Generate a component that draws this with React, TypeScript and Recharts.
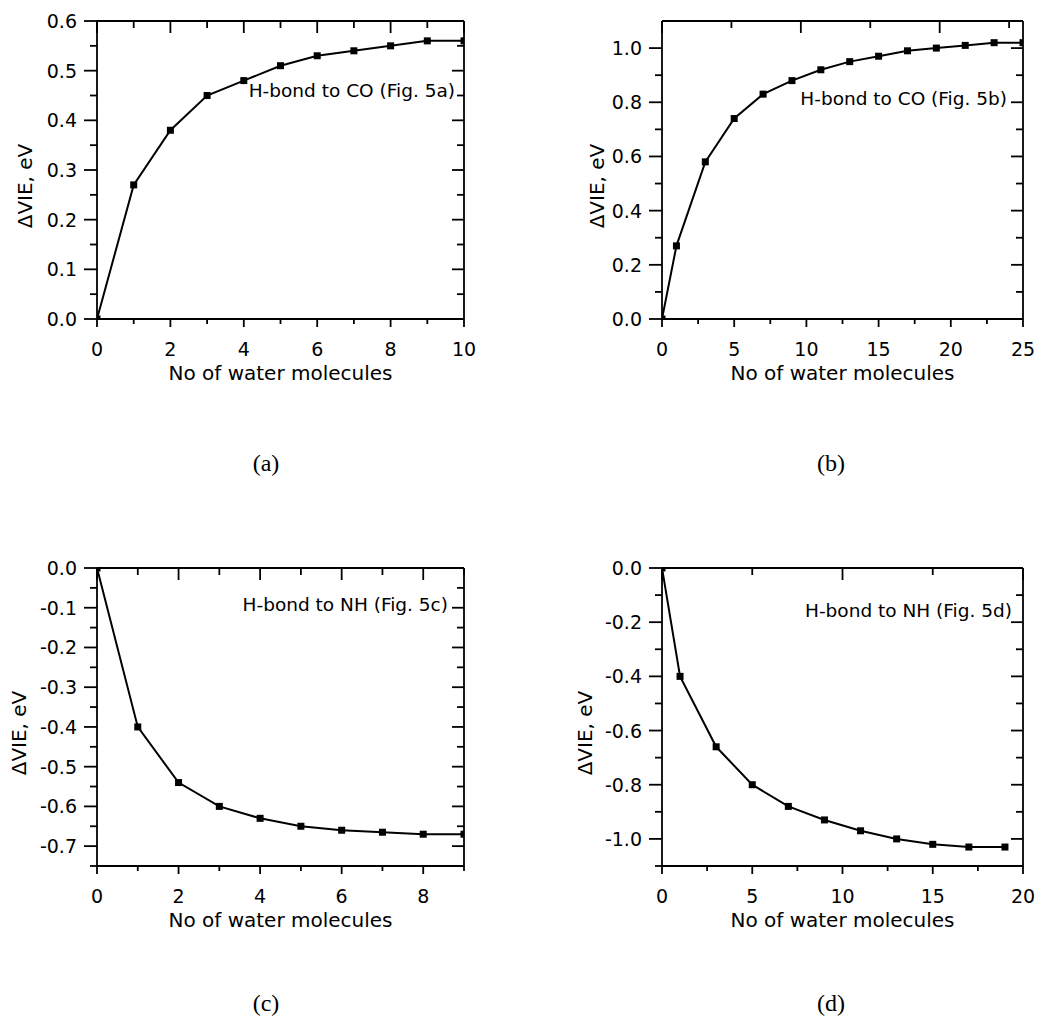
import { LineChart, Line, XAxis, YAxis } from "recharts";

// ---- data ----
const waterA = [0, 1, 2, 3, 4, 5, 6, 7, 8, 9, 10];
const vieA = [0, 0.27, 0.38, 0.45, 0.48, 0.51, 0.53, 0.54, 0.55, 0.56, 0.56];

const waterB = [0, 1, 3, 5, 7, 9, 11, 13, 15, 17, 19, 21, 23, 25];
const vieB = [0, 0.27, 0.58, 0.74, 0.83, 0.88, 0.92, 0.95, 0.97, 0.99, 1.0, 1.01, 1.02, 1.02];

const waterC = [0, 1, 2, 3, 4, 5, 6, 7, 8, 9];
const vieC = [0, -0.4, -0.54, -0.6, -0.63, -0.65, -0.66, -0.665, -0.67, -0.67];

const waterD = [0, 1, 3, 5, 7, 9, 11, 13, 15, 17, 19];
const vieD = [0, -0.4, -0.66, -0.8, -0.88, -0.93, -0.97, -1.0, -1.02, -1.03, -1.03];

// ---- ticks ----
const xMajorA = [0, 2, 4, 6, 8, 10];
const xMinorA = [1, 3, 5, 7, 9];
const yMajorA = [0, 0.1, 0.2, 0.3, 0.4, 0.5, 0.6];
const yMinorA = [0.05, 0.15, 0.25, 0.35, 0.45, 0.55];

const xMajorB = [0, 5, 10, 15, 20, 25];
const xMinorB = [2.5, 7.5, 12.5, 17.5, 22.5];
const yMajorB = [0, 0.2, 0.4, 0.6, 0.8, 1.0];
const yMinorB = [0.1, 0.3, 0.5, 0.7, 0.9];

const xMajorC = [0, 2, 4, 6, 8];
const xMinorC = [1, 3, 5, 7, 9];
const yMajorC = [0, -0.1, -0.2, -0.3, -0.4, -0.5, -0.6, -0.7];
const yMinorC = [-0.05, -0.15, -0.25, -0.35, -0.45, -0.55, -0.65, -0.75];

const xMajorD = [0, 5, 10, 15, 20];
const xMinorD = [2.5, 7.5, 12.5, 17.5];
const yMajorD = [0, -0.2, -0.4, -0.6, -0.8, -1.0];
const yMinorD = [-0.1, -0.3, -0.5, -0.7, -0.9, -1.1];

const FONT = "'DejaVu Sans', sans-serif";
const AXIS_W = 1.8;

const isMajor = (v: number, majors: number[]) => majors.some((m) => Math.abs(m - v) < 1e-9);

type Side = "bottom" | "top" | "left" | "right";

// custom tick: draws the tick mark (major/minor) and, for labelled sides, the number
const makeTick = (side: Side, majors: number[], fmt?: (v: number) => string) => (props: any) => {
  const { x, y, payload } = props;
  const major = isMajor(payload.value, majors);
  let line;
  if (side === "bottom") {
    const len = major ? 8 : 5;
    line = <line x1={x} y1={y} x2={x} y2={y + len} stroke="#000" strokeWidth={AXIS_W} />;
  } else if (side === "top") {
    const len = major ? 12 : 7;
    line = <line x1={x} y1={y} x2={x} y2={y + len} stroke="#000" strokeWidth={AXIS_W} />;
  } else if (side === "left") {
    const len = major ? 13 : 7;
    line = <line x1={x} y1={y} x2={x - len} y2={y} stroke="#000" strokeWidth={AXIS_W} />;
  } else {
    const len = major ? 12 : 7;
    line = <line x1={x} y1={y} x2={x - len} y2={y} stroke="#000" strokeWidth={AXIS_W} />;
  }
  let label = null;
  if (fmt && major) {
    if (side === "bottom") {
      label = (
        <text x={x} y={y + 37} textAnchor="middle" fontFamily={FONT} fontSize={19} fill="#000">
          {fmt(payload.value)}
        </text>
      );
    } else if (side === "left") {
      label = (
        <text x={x - 20} y={y + 7} textAnchor="end" fontFamily={FONT} fontSize={19} fill="#000">
          {fmt(payload.value)}
        </text>
      );
    }
  }
  return (
    <g>
      {line}
      {label}
    </g>
  );
};

const Square = (props: any) => {
  const { cx, cy, index } = props;
  if (cx == null || cy == null) return <g key={index} />;
  return <rect key={index} x={cx - 3.5} y={cy - 3.5} width={7} height={7} fill="#000" />;
};

interface PanelProps {
  left: number;
  top: number;
  width: number;
  height: number;
  plot: { top: number; right: number; bottom: number; left: number };
  water: number[];
  vie: number[];
  xDomain: [number, number];
  yDomain: [number, number];
  xMajor: number[];
  xMinor: number[];
  yMajor: number[];
  yMinor: number[];
  note: string;
  noteX: number;
  noteY: number;
  yTitleX: number;
  caption: string;
  captionX: number;
  captionY: number;
}

const Panel = (p: PanelProps) => {
  const data = p.water.map((n, i) => ({ n, vie: p.vie[i] }));
  const xTicks = [...p.xMajor, ...p.xMinor].sort((a, b) => a - b);
  const yTicks = [...p.yMajor, ...p.yMinor].sort((a, b) => a - b);
  // plot box edges (panel coords); each axis takes 1px of margin
  const { top: plotTop, bottom: plotBottom, left: plotLeft, right: plotRight } = p.plot;
  const margin = {
    top: plotTop - 1,
    left: plotLeft - 1,
    right: p.width - plotRight - 1,
    bottom: p.height - plotBottom - 1,
  };
  const cx = (plotLeft + plotRight) / 2;
  const cy = (plotTop + plotBottom) / 2 + 16;
  const axisLine = { stroke: "#000", strokeWidth: AXIS_W };

  return (
    <div style={{ position: "absolute", left: p.left, top: p.top, width: p.width, height: p.height }}>
      <LineChart width={p.width} height={p.height} data={data} margin={margin}>
        <XAxis
          dataKey="n"
          type="number"
          domain={p.xDomain}
          ticks={xTicks}
          interval={0}
          allowDataOverflow
          height={1}
          tickSize={0}
          tickMargin={0}
          tickLine={false}
          axisLine={axisLine}
          tick={makeTick("bottom", p.xMajor, (v) => String(v))}
        />
        <XAxis
          xAxisId="top"
          orientation="top"
          type="number"
          domain={p.xDomain}
          ticks={xTicks}
          interval={0}
          allowDataOverflow
          height={1}
          tickSize={0}
          tickMargin={0}
          tickLine={false}
          axisLine={axisLine}
          tick={makeTick("top", p.xMajor)}
        />
        <YAxis
          type="number"
          domain={p.yDomain}
          ticks={yTicks}
          interval={0}
          allowDataOverflow
          width={1}
          tickSize={0}
          tickMargin={0}
          tickLine={false}
          axisLine={axisLine}
          tick={makeTick("left", p.yMajor, (v) => v.toFixed(1))}
        />
        <YAxis
          yAxisId="right"
          orientation="right"
          type="number"
          domain={p.yDomain}
          ticks={yTicks}
          interval={0}
          allowDataOverflow
          width={1}
          tickSize={0}
          tickMargin={0}
          tickLine={false}
          axisLine={axisLine}
          tick={makeTick("right", p.yMajor)}
        />
        <Line
          type="linear"
          dataKey="vie"
          stroke="#000"
          strokeWidth={2}
          dot={Square}
          activeDot={false}
          isAnimationActive={false}
        />
      </LineChart>
      <svg
        width={p.width}
        height={p.height}
        style={{ position: "absolute", left: 0, top: 0, pointerEvents: "none" }}
      >
        <text x={p.noteX} y={p.noteY} textAnchor="end" fontFamily={FONT} fontSize={18.5} fill="#000">
          {p.note}
        </text>
        <text
          x={p.yTitleX}
          y={cy}
          textAnchor="middle"
          dominantBaseline="central"
          transform={`rotate(-90 ${p.yTitleX} ${cy})`}
          fontFamily={FONT}
          fontSize={20}
          fill="#000"
        >
          ΔVIE, eV
        </text>
        <text x={cx} y={plotBottom + 61} textAnchor="middle" fontFamily={FONT} fontSize={20} fill="#000">
          No of water molecules
        </text>
        <text
          x={p.captionX}
          y={p.captionY}
          textAnchor="middle"
          fontFamily="'Liberation Serif', serif"
          fontSize={24}
          fill="#000"
        >
          {p.caption}
        </text>
      </svg>
    </div>
  );
};

export default function App() {
  return (
    <div style={{ position: "absolute", left: 0, top: 0, width: 1050, height: 1025, background: "#fff" }}>
      <Panel
        left={0}
        top={0}
        width={520}
        height={500}
        plot={{ top: 21, right: 464, bottom: 319, left: 97 }}
        water={waterA}
        vie={vieA}
        xDomain={[0, 10]}
        yDomain={[0, 0.6]}
        xMajor={xMajorA}
        xMinor={xMinorA}
        yMajor={yMajorA}
        yMinor={yMinorA}
        note="H-bond to CO (Fig. 5a)"
        noteX={455}
        noteY={97}
        yTitleX={25}
        caption="(a)"
        captionX={266}
        captionY={471}
      />
      <Panel
        left={520}
        top={0}
        width={530}
        height={500}
        plot={{ top: 21, right: 503, bottom: 319, left: 142 }}
        water={waterB}
        vie={vieB}
        xDomain={[0, 25]}
        yDomain={[0, 1.1]}
        xMajor={xMajorB}
        xMinor={xMinorB}
        yMajor={yMajorB}
        yMinor={yMinorB}
        note="H-bond to CO (Fig. 5b)"
        noteX={487}
        noteY={105}
        yTitleX={77}
        caption="(b)"
        captionX={311}
        captionY={471}
      />
      <Panel
        left={0}
        top={520}
        width={520}
        height={505}
        plot={{ top: 48, right: 464, bottom: 346, left: 97 }}
        water={waterC}
        vie={vieC}
        xDomain={[0, 9]}
        yDomain={[-0.75, 0]}
        xMajor={xMajorC}
        xMinor={xMinorC}
        yMajor={yMajorC}
        yMinor={yMinorC}
        note="H-bond to NH (Fig. 5c)"
        noteX={448}
        noteY={91}
        yTitleX={18.5}
        caption="(c)"
        captionX={266}
        captionY={491}
      />
      <Panel
        left={520}
        top={520}
        width={530}
        height={505}
        plot={{ top: 48, right: 503, bottom: 346, left: 142 }}
        water={waterD}
        vie={vieD}
        xDomain={[0, 20]}
        yDomain={[-1.1, 0]}
        xMajor={xMajorD}
        xMinor={xMinorD}
        yMajor={yMajorD}
        yMinor={yMinorD}
        note="H-bond to NH (Fig. 5d)"
        noteX={492}
        noteY={97}
        yTitleX={65}
        caption="(d)"
        captionX={311}
        captionY={491}
      />
    </div>
  );
}
